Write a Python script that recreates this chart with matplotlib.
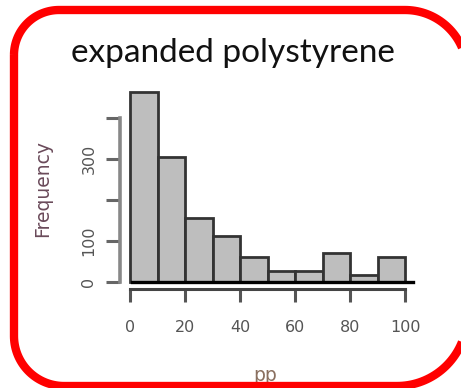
import numpy as np
import matplotlib
matplotlib.use("Agg")
import matplotlib.pyplot as plt
from matplotlib.patches import Polygon

# Histogram data
bin_edges = [0, 10, 20, 30, 40, 50, 60, 70, 80, 90, 100]
counts = [462, 305, 157, 112, 61, 27, 27, 70, 18, 61]
x_ticks = [0, 20, 40, 60, 80, 100]
y_ticks = [0, 100, 200, 300, 400]
y_tick_labels = ["0", "100", "", "300", ""]
title = "expanded polystyrene"
x_label = "pp"
y_label = "Frequency"

W, H = 461, 388
fig = plt.figure(figsize=(W / 100, H / 100), dpi=100)

# Main histogram axes (pixel box -> figure fractions)
L, R, T, B = 100, 430, 80, 310
ax = fig.add_axes([L / W, (H - B) / H, (R - L) / W, (B - T) / H])
px_x = 2.75      # pixels per x unit
px_y = 0.4115    # pixels per count
x0_px, y0_px = 130, 282.3
ax.set_xlim((L - x0_px) / px_x, (R - x0_px) / px_x)
ax.set_ylim((y0_px - B) / px_y, (y0_px - T) / px_y)
ax.patch.set_alpha(0)

lefts = np.array(bin_edges[:-1])
widths = np.diff(bin_edges)
ax.bar(lefts, counts, width=widths, align="edge", color="#bebebe",
       edgecolor="#333333", linewidth=2.0, zorder=2)
xl = ax.get_xlim()
ax.axhline(0, xmin=(0.7 - xl[0]) / (xl[1] - xl[0]),
           xmax=(103 - xl[0]) / (xl[1] - xl[0]),
           color="black", linewidth=2.4, zorder=3)

for s in ("top", "right"):
    ax.spines[s].set_visible(False)
ax.spines["left"].set_position(("data", (120 - x0_px) / px_x))
ax.spines["left"].set_bounds(0, 400)
ax.spines["left"].set_color("#888888")
ax.spines["left"].set_linewidth(2.6)
ax.spines["bottom"].set_position(("data", (y0_px - 289) / px_y))
ax.spines["bottom"].set_bounds(0, 100)
ax.spines["bottom"].set_color("#444444")
ax.spines["bottom"].set_linewidth(2.2)

ax.set_yticks(y_ticks)
ax.set_yticklabels(y_tick_labels, rotation=90, va="center")
ax.set_xticks(x_ticks)
ax.set_xticklabels([str(v) for v in x_ticks])
ax.tick_params(axis="y", direction="out", length=10, width=2.2,
               color="#666666", pad=7, labelsize=11.5, labelcolor="#555555")
ax.tick_params(axis="x", direction="out", length=9, width=2.2,
               color="#555555", pad=13, labelsize=11.5, labelcolor="#555555")

fig.text(43 / W, 1 - 188 / H, y_label, rotation=90, ha="center",
         va="center", fontsize=13.5, color="#6a4a5a")
fig.text(265 / W, 1 - 366 / H, x_label, ha="center", va="top",
         fontsize=13.5, color="#8a7060")

fig.text(232.5 / W, 1 - 62 / H, title, ha="center", va="baseline",
         fontsize=24, family="Lato", color="#111111")

# Rounded red frame (per-corner radii), drawn over everything
frame = fig.add_axes([0, 0, 1, 1], zorder=10)
frame.set_xlim(0, W)
frame.set_ylim(H, 0)
frame.axis("off")
frame.patch.set_alpha(0)

fx0, fy0, fx1, fy1 = 14, 10, 467, 386
r_tl, r_tr, r_br, r_bl = 45, 62, 70, 50


def corner(cx, cy, r, a0, a1):
    t = np.radians(np.linspace(a0, a1, 40))
    return np.column_stack([cx + r * np.cos(t), cy + r * np.sin(t)])


# y grows downward in this frame, so angles run clockwise on screen
outline = np.vstack([
    corner(fx0 + r_tl, fy0 + r_tl, r_tl, 180, 270),
    corner(fx1 - r_tr, fy0 + r_tr, r_tr, 270, 360),
    corner(fx1 - r_br, fy1 - r_br, r_br, 0, 90),
    corner(fx0 + r_bl, fy1 - r_bl, r_bl, 90, 180),
])
frame.add_patch(Polygon(outline, closed=True, facecolor="none",
                        edgecolor="#ff0000", linewidth=6, clip_on=False))

fig.savefig("out.png", dpi=100)
